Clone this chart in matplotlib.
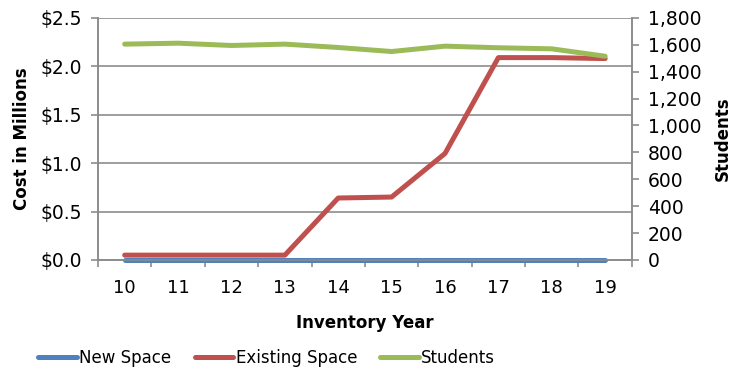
import numpy as np
import matplotlib.pyplot as plt
from matplotlib.lines import Line2D
from matplotlib.ticker import FuncFormatter, MultipleLocator

years = ['10', '11', '12', '13', '14', '15', '16', '17', '18', '19']
new_space = [0, 0, 0, 0, 0, 0, 0, 0, 0, 0]
existing_space = [0.05, 0.05, 0.05, 0.05, 0.64, 0.65, 1.10, 2.09, 2.09, 2.08]
students = [1605, 1612, 1595, 1605, 1580, 1550, 1590, 1578, 1570, 1515]

blue = '#4F81BD'
red = '#C0504D'
green = '#9BBB59'
grey = '#8C8C8C'

plt.rcParams['font.family'] = 'DejaVu Sans'

fig = plt.figure(figsize=(7.39, 3.73), dpi=100)
ax = fig.add_axes([0.1326, 0.303, 0.7224, 0.649])
ax2 = ax.twinx()

x = np.arange(len(years))
ax.plot(x, existing_space, color=red, lw=3.6, solid_capstyle='round', zorder=3)
ax.plot(x, new_space, color=blue, lw=3.6, solid_capstyle='round', zorder=4, clip_on=False)
ax2.plot(x, students, color=green, lw=3.6, solid_capstyle='round')

ax.set_xlim(-0.5, len(years) - 0.5)
ax.set_ylim(0, 2.5)
ax2.set_ylim(0, 1800)

ax.yaxis.set_major_locator(MultipleLocator(0.5))
ax.yaxis.set_major_formatter(FuncFormatter(lambda v, p: f'${v:.1f}'))
ax2.yaxis.set_major_locator(MultipleLocator(200))
ax2.yaxis.set_major_formatter(FuncFormatter(lambda v, p: f'{int(v):,}'))

ax.set_xticks(x)
ax.set_xticklabels(years)
ax.set_xticks(np.arange(-0.5, len(years)), minor=True)
ax.tick_params(axis='x', which='major', length=0, labelsize=13, pad=14)
ax.tick_params(axis='x', which='minor', length=5, color=grey, width=1.2)
ax.tick_params(axis='y', length=5, color=grey, width=1.2, labelsize=13.5, pad=6.5)
ax2.tick_params(axis='y', length=5, color=grey, width=1.2, labelsize=13.5, pad=6.5)

ax.grid(axis='y', color=grey, lw=1.2)
ax.set_axisbelow(True)
for a in (ax, ax2):
    a.spines['top'].set_visible(False)
    for s in ('left', 'right', 'bottom'):
        a.spines[s].set_color(grey)
        a.spines[s].set_linewidth(1.2)

ax.set_ylabel('Cost in Millions', fontsize=12, fontweight='bold', labelpad=7)
ax2.set_ylabel('Students', fontsize=12, fontweight='bold', labelpad=9)
ax.set_xlabel('Inventory Year', fontsize=12, fontweight='bold', labelpad=12)

handles = [Line2D([], [], color=c, lw=3.6, solid_capstyle='round') for c in (blue, red, green)]
fig.legend(handles, ['New Space', 'Existing Space', 'Students'], loc='center',
           bbox_to_anchor=(0.361, 0.04), ncol=3, frameon=False, fontsize=12,
           handlelength=2.3, handletextpad=0.15, columnspacing=1.4)

fig.savefig('out.png', dpi=100)
